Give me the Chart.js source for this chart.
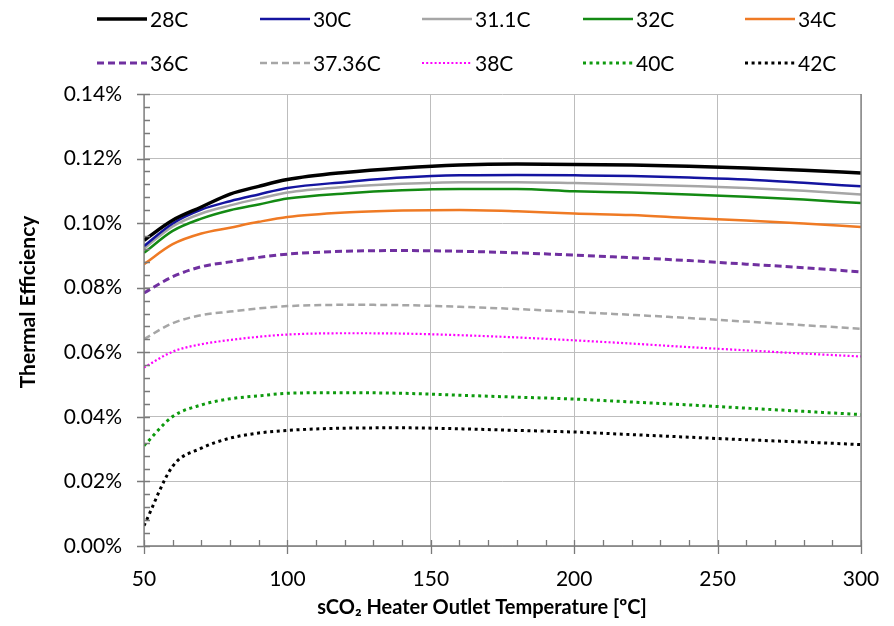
<!DOCTYPE html>
<html><head><meta charset="utf-8">
<script src="https://cdn.jsdelivr.net/npm/chart.js@4"></script>
<style>html,body{margin:0;padding:0;background:#fff}canvas{display:block}</style>
</head><body>
<canvas id="c" width="894" height="626"></canvas>
<script>
const temps = [50,60,70,80,90,100,120,140,160,180,200,220,240,260,280,300];
const seriesNames = ['28C','30C','31.1C','32C','34C','36C','37.36C','38C','40C','42C'];
const eff28 = [.0947,.1009,.1050,.1090,.1114,.1135,.1157,.1171,.1180,.1183,.1182,.1180,.1176,.1171,.1164,.1155];
const eff30 = [.0929,.0999,.1042,.1068,.1089,.1109,.1127,.1141,.1148,.1149,.1148,.1146,.1141,.1135,.1125,.1114];
const eff311 = [.0921,.0990,.1030,.1055,.1076,.1095,.1112,.1122,.1127,.1127,.1124,.1120,.1115,.1109,.1100,.1089];
const eff32 = [.0908,.0976,.1014,.1040,.1058,.1076,.1092,.1102,.1106,.1106,.1099,.1095,.1089,.1082,.1073,.1062];
const eff34 = [.0873,.0935,.0968,.0986,.1004,.1019,.1033,.1039,.1041,.1037,.1030,.1025,.1016,.1008,.0999,.0988];
const eff36 = [.0784,.0834,.0865,.0880,.0894,.0904,.0913,.0915,.0913,.0908,.0901,.0893,.0884,.0873,.0862,.0849];
const eff3736 = [.0641,.0690,.0715,.0726,.0736,.0743,.0747,.0746,.0741,.0734,.0725,.0716,.0706,.0695,.0684,.0673];
const eff38 = [.0553,.0602,.0625,.0638,.0648,.0655,.0659,.0658,.0653,.0646,.0637,.0627,.0616,.0606,.0596,.0587];
const eff40 = [.0311,.0401,.0437,.0456,.0465,.0473,.0475,.0473,.0467,.0461,.0455,.0446,.0437,.0427,.0417,.0407];
const eff42 = [.0063,.0247,.0303,.0334,.0350,.0358,.0365,.0366,.0363,.0358,.0353,.0345,.0337,.0329,.0322,.0314];
const allValues = [eff28,eff30,eff311,eff32,eff34,eff36,eff3736,eff38,eff40,eff42];
const xTitle = 'sCO\u2082 Heater Outlet Temperature [\u00BAC]';
const yTitle = 'Thermal Efficiency';

const styles = [
  {color:'#000000', width:3.5, dash:[]},
  {color:'#1414a0', width:2.5, dash:[]},
  {color:'#a6a6a6', width:2.5, dash:[]},
  {color:'#138a13', width:2.5, dash:[]},
  {color:'#ef7a24', width:2.5, dash:[]},
  {color:'#7030a0', width:3, dash:[7,4]},
  {color:'#a6a6a6', width:2.5, dash:[7,4]},
  {color:'#ff00ff', width:2.2, dash:[2,2.2]},
  {color:'#0d9a0d', width:3, dash:[3,3.6]},
  {color:'#000000', width:3, dash:[3,3.6]}
];

const FONT = "Lato, 'Open Sans', sans-serif";

const datasets = seriesNames.map((n,i)=>({
  label:n,
  data: temps.map((t,j)=>({x:t,y:allValues[i][j]})),
  borderColor: styles[i].color,
  borderWidth: styles[i].width,
  borderDash: styles[i].dash,
  pointRadius:0,
  fill:false,
  cubicInterpolationMode:'monotone'
}));

const decor = {
  id:'decor',
  afterDatasetsDraw(chart){
    const ctx = chart.ctx, xs = chart.scales.x, ys = chart.scales.y, a = chart.chartArea;
    ctx.save();
    ctx.strokeStyle = '#7a7a7a';
    ctx.lineWidth = 1.3;
    ctx.beginPath();
    ctx.moveTo(a.left, a.top); ctx.lineTo(a.left, a.bottom);
    ctx.moveTo(a.left, a.bottom); ctx.lineTo(a.right, a.bottom);
    ctx.moveTo(a.right, a.top); ctx.lineTo(a.right, a.bottom);
    for (let k=0;k<=35;k++){
      const v = k*0.004; const py = Math.round(ys.getPixelForValue(v))+0.5;
      if (k%5===0){ ctx.moveTo(a.left-7,py); ctx.lineTo(a.left+6,py); }
      else { ctx.moveTo(a.left,py); ctx.lineTo(a.left+6,py); }
    }
    for (let t=50;t<=300;t+=10){
      const px = Math.round(xs.getPixelForValue(t))+0.5;
      if (t%50===0){ ctx.moveTo(px,a.bottom-6); ctx.lineTo(px,a.bottom+8); }
      else { ctx.moveTo(px,a.bottom-6); ctx.lineTo(px,a.bottom); }
    }
    ctx.stroke();
    ctx.restore();
  },
  afterDraw(chart){
    const ctx = chart.ctx;
    const colX = [97,260,422,583,745];
    const rowY = [19,63];
    ctx.save();
    ctx.font = "21px " + FONT;
    ctx.textBaseline = 'middle';
    ctx.fillStyle = '#000';
    chart.data.datasets.forEach((ds,i)=>{
      const x = colX[i%5], y = rowY[Math.floor(i/5)];
      ctx.strokeStyle = ds.borderColor;
      ctx.lineWidth = ds.borderWidth;
      ctx.setLineDash(ds.borderDash);
      ctx.beginPath(); ctx.moveTo(x,y); ctx.lineTo(x+50,y); ctx.stroke();
      ctx.setLineDash([]);
      ctx.fillText(ds.label, x+53, y+1);
    });
    ctx.font = "bold 20px " + FONT;
    ctx.textAlign = 'center';
    ctx.fillText(xTitle, 482, 608);
    ctx.translate(28, 302);
    ctx.rotate(-Math.PI/2);
    ctx.font = "bold 21px " + FONT;
    ctx.fillText(yTitle, 0, 0);
    ctx.restore();
  }
};

new Chart(document.getElementById('c'), {
  type:'line',
  data:{datasets},
  plugins:[decor],
  options:{
    responsive:false,
    animation:false,
    layout:{padding:{top:94,right:33,left:0,bottom:0}},
    plugins:{legend:{display:false},tooltip:{enabled:false}},
    scales:{
      x:{
        type:'linear', min:50, max:300,
        afterFit(s){ s.height = 80; s.paddingLeft = 0; s.paddingRight = 0; },
        ticks:{stepSize:50, color:'#000', font:{family:FONT,size:21}, padding:21, maxRotation:0},
        grid:{color:'#bdbdbd', lineWidth:1, drawTicks:false},
        border:{display:false}
      },
      y:{
        min:0, max:0.14,
        afterFit(s){ s.width = 144; s.paddingTop = 0; s.paddingBottom = 0; },
        ticks:{stepSize:0.02, color:'#000', font:{family:FONT,size:21}, padding:22,
               callback:v=>v.toFixed(2)+'%'},
        grid:{color:'#bdbdbd', lineWidth:1, drawTicks:false},
        border:{display:false}
      }
    }
  }
});
</script>
</body></html>
